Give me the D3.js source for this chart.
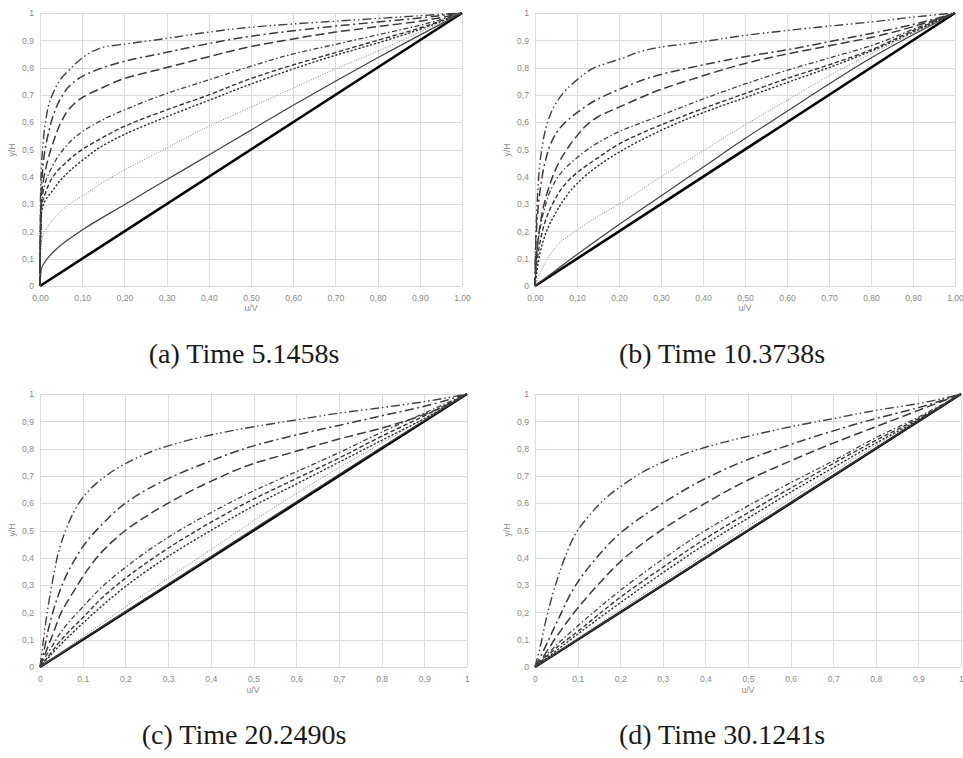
<!DOCTYPE html>
<html><head><meta charset="utf-8">
<script src="https://cdn.jsdelivr.net/npm/d3@7/dist/d3.min.js"></script>
<style>
html,body{margin:0;padding:0;background:#fff;}
svg{display:block;}
</style></head>
<body>
<svg id="fig" width="963" height="758"></svg>
<script>
// ---------- DATA ----------
const seriesNames = ["thick","solid","roundDot","squareDot","dash","dashDot","longDash","longDashDot","longDashDotDot"];
const captions = ["(a) Time 5.1458s","(b) Time 10.3738s","(c) Time 20.2490s","(d) Time 30.1241s"];
const tickValues = [0,0.1,0.2,0.3,0.4,0.5,0.6,0.7,0.8,0.9,1];
const xTickLabelsAB = ["0,00","0,10","0,20","0,30","0,40","0,50","0,60","0,70","0,80","0,90","1,00"];
const xTickLabelsCD = ["0","0,1","0,2","0,3","0,4","0,5","0,6","0,7","0,8","0,9","1"];
const yTickLabels = ["0","0,1","0,2","0,3","0,4","0,5","0,6","0,7","0,8","0,9","1"];
const xTitle = "u/V", yTitle = "y/H";

// each series: list of [u/V, y/H]
const seriesA = [
  [[0,0],[1,1]],
  [[0,0],[0.003,0.06],[0.035,0.13],[0.1,0.205],[0.2,0.298],[0.3,0.389],[0.4,0.48],[0.5,0.571],[0.6,0.662],[0.7,0.75],[0.8,0.836],[0.9,0.919],[1,1]],
  [[0,0],[0.001,0.1],[0.004,0.17],[0.015,0.21],[0.035,0.25],[0.07,0.3],[0.1,0.33],[0.15,0.38],[0.2,0.425],[0.3,0.505],[0.4,0.585],[0.5,0.655],[0.6,0.725],[0.7,0.795],[0.8,0.86],[0.9,0.93],[1,1]],
  [[0,0],[0.002,0.2],[0.004,0.27],[0.015,0.32],[0.03,0.35],[0.05,0.39],[0.1,0.46],[0.15,0.515],[0.2,0.555],[0.3,0.62],[0.4,0.68],[0.5,0.74],[0.6,0.795],[0.7,0.845],[0.8,0.89],[0.9,0.94],[1,1]],
  [[0,0],[0.002,0.22],[0.004,0.29],[0.015,0.35],[0.035,0.41],[0.06,0.45],[0.1,0.5],[0.15,0.545],[0.2,0.585],[0.3,0.645],[0.4,0.7],[0.5,0.76],[0.6,0.81],[0.7,0.855],[0.8,0.9],[0.9,0.945],[1,1]],
  [[0,0],[0.002,0.25],[0.005,0.32],[0.015,0.39],[0.03,0.44],[0.05,0.49],[0.1,0.565],[0.15,0.61],[0.2,0.645],[0.3,0.705],[0.4,0.755],[0.5,0.805],[0.6,0.85],[0.7,0.885],[0.8,0.92],[0.9,0.955],[1,1]],
  [[0,0],[0.002,0.28],[0.005,0.35],[0.012,0.42],[0.02,0.47],[0.032,0.53],[0.05,0.6],[0.07,0.65],[0.1,0.69],[0.15,0.728],[0.2,0.76],[0.3,0.8],[0.4,0.84],[0.5,0.877],[0.6,0.905],[0.7,0.93],[0.8,0.95],[0.9,0.97],[1,1]],
  [[0,0],[0.002,0.3],[0.005,0.4],[0.01,0.48],[0.02,0.56],[0.035,0.64],[0.05,0.69],[0.075,0.74],[0.1,0.768],[0.15,0.8],[0.2,0.823],[0.3,0.856],[0.4,0.888],[0.5,0.915],[0.6,0.935],[0.7,0.952],[0.8,0.967],[0.9,0.982],[1,1]],
  [[0,0],[0.001,0.3],[0.003,0.42],[0.007,0.52],[0.013,0.6],[0.022,0.67],[0.035,0.72],[0.05,0.76],[0.075,0.8],[0.1,0.835],[0.13,0.863],[0.16,0.878],[0.2,0.886],[0.3,0.907],[0.4,0.93],[0.5,0.948],[0.6,0.96],[0.7,0.97],[0.8,0.98],[0.9,0.99],[1,1]]
];
const seriesB = [
  [[0,0],[1,1]],
  [[0,0],[0.1,0.115],[0.2,0.225],[0.3,0.33],[0.4,0.435],[0.5,0.54],[0.6,0.64],[0.7,0.74],[0.8,0.835],[0.9,0.92],[1,1]],
  [[0,0],[0.01,0.04],[0.03,0.1],[0.06,0.16],[0.1,0.205],[0.15,0.255],[0.2,0.3],[0.3,0.4],[0.4,0.495],[0.5,0.59],[0.6,0.68],[0.7,0.77],[0.8,0.85],[0.9,0.925],[1,1]],
  [[0,0],[0.005,0.06],[0.015,0.14],[0.03,0.21],[0.05,0.27],[0.075,0.33],[0.1,0.375],[0.15,0.44],[0.2,0.49],[0.3,0.57],[0.4,0.635],[0.5,0.69],[0.6,0.745],[0.7,0.8],[0.8,0.86],[0.9,0.93],[1,1]],
  [[0,0],[0.004,0.08],[0.012,0.16],[0.025,0.24],[0.045,0.31],[0.07,0.37],[0.1,0.415],[0.15,0.47],[0.2,0.52],[0.3,0.59],[0.4,0.65],[0.5,0.705],[0.6,0.76],[0.7,0.81],[0.8,0.865],[0.9,0.935],[1,1]],
  [[0,0],[0.003,0.1],[0.01,0.19],[0.022,0.28],[0.04,0.36],[0.065,0.42],[0.1,0.47],[0.15,0.525],[0.2,0.565],[0.3,0.625],[0.4,0.685],[0.5,0.74],[0.6,0.79],[0.7,0.835],[0.8,0.88],[0.9,0.94],[1,1]],
  [[0,0],[0.003,0.1],[0.01,0.2],[0.02,0.29],[0.035,0.37],[0.05,0.43],[0.08,0.51],[0.1,0.55],[0.12,0.585],[0.15,0.62],[0.2,0.655],[0.3,0.72],[0.4,0.77],[0.5,0.815],[0.6,0.85],[0.7,0.88],[0.8,0.91],[0.9,0.95],[1,1]],
  [[0,0],[0.002,0.15],[0.006,0.26],[0.013,0.36],[0.025,0.46],[0.04,0.53],[0.06,0.58],[0.1,0.635],[0.15,0.685],[0.2,0.72],[0.3,0.775],[0.4,0.81],[0.5,0.84],[0.6,0.865],[0.7,0.895],[0.8,0.925],[0.9,0.958],[1,1]],
  [[0,0],[0.002,0.18],[0.005,0.3],[0.01,0.42],[0.018,0.52],[0.03,0.6],[0.05,0.67],[0.075,0.72],[0.1,0.755],[0.15,0.805],[0.2,0.83],[0.3,0.875],[0.4,0.895],[0.5,0.918],[0.6,0.936],[0.7,0.952],[0.8,0.967],[0.9,0.985],[1,1]]
];
const seriesC = [
  [[0,0],[1,1]],
  [[0,0],[0.2,0.203],[0.5,0.505],[0.8,0.805],[1,1]],
  [[0,0],[0.05,0.055],[0.1,0.11],[0.2,0.22],[0.3,0.325],[0.4,0.43],[0.5,0.535],[0.6,0.635],[0.7,0.73],[0.8,0.82],[0.9,0.91],[1,1]],
  [[0,0],[0.02,0.035],[0.05,0.085],[0.1,0.16],[0.15,0.23],[0.2,0.295],[0.3,0.405],[0.4,0.5],[0.5,0.59],[0.6,0.67],[0.7,0.75],[0.8,0.83],[0.9,0.91],[1,1]],
  [[0,0],[0.02,0.04],[0.05,0.1],[0.1,0.18],[0.15,0.26],[0.2,0.325],[0.3,0.435],[0.4,0.53],[0.5,0.615],[0.6,0.69],[0.7,0.765],[0.8,0.845],[0.9,0.92],[1,1]],
  [[0,0],[0.01,0.03],[0.03,0.08],[0.05,0.13],[0.1,0.22],[0.15,0.3],[0.2,0.365],[0.3,0.475],[0.4,0.565],[0.5,0.645],[0.6,0.715],[0.7,0.785],[0.8,0.86],[0.9,0.93],[1,1]],
  [[0,0],[0.01,0.04],[0.03,0.12],[0.05,0.2],[0.08,0.28],[0.1,0.33],[0.15,0.43],[0.2,0.5],[0.3,0.6],[0.4,0.68],[0.5,0.745],[0.6,0.79],[0.7,0.835],[0.8,0.875],[0.9,0.925],[1,1]],
  [[0,0],[0.008,0.05],[0.02,0.14],[0.04,0.25],[0.06,0.33],[0.08,0.39],[0.1,0.44],[0.15,0.53],[0.2,0.6],[0.3,0.69],[0.4,0.755],[0.5,0.81],[0.6,0.85],[0.7,0.885],[0.8,0.92],[0.9,0.955],[1,1]],
  [[0,0],[0.005,0.06],[0.015,0.18],[0.03,0.32],[0.045,0.43],[0.06,0.5],[0.08,0.57],[0.1,0.62],[0.15,0.695],[0.2,0.745],[0.3,0.81],[0.4,0.85],[0.5,0.88],[0.6,0.905],[0.7,0.93],[0.8,0.95],[0.9,0.972],[1,1]]
];
const seriesD = [
  [[0,0],[1,1]],
  [[0,0],[0.5,0.502],[1,1]],
  [[0,0],[0.1,0.105],[0.2,0.21],[0.3,0.312],[0.4,0.414],[0.5,0.515],[0.6,0.615],[0.7,0.715],[0.8,0.812],[0.9,0.906],[1,1]],
  [[0,0],[0.05,0.06],[0.1,0.12],[0.2,0.235],[0.3,0.345],[0.4,0.45],[0.5,0.545],[0.6,0.64],[0.7,0.73],[0.8,0.82],[0.9,0.905],[1,1]],
  [[0,0],[0.05,0.07],[0.1,0.13],[0.2,0.255],[0.3,0.365],[0.4,0.47],[0.5,0.565],[0.6,0.655],[0.7,0.745],[0.8,0.83],[0.9,0.91],[1,1]],
  [[0,0],[0.05,0.08],[0.1,0.15],[0.2,0.28],[0.3,0.395],[0.4,0.5],[0.5,0.59],[0.6,0.675],[0.7,0.755],[0.8,0.84],[0.9,0.915],[1,1]],
  [[0,0],[0.02,0.04],[0.05,0.11],[0.1,0.215],[0.15,0.305],[0.2,0.385],[0.3,0.505],[0.4,0.6],[0.5,0.685],[0.6,0.755],[0.7,0.82],[0.8,0.88],[0.9,0.94],[1,1]],
  [[0,0],[0.02,0.06],[0.05,0.16],[0.1,0.31],[0.15,0.41],[0.2,0.49],[0.3,0.6],[0.4,0.69],[0.5,0.76],[0.6,0.815],[0.7,0.865],[0.8,0.91],[0.9,0.95],[1,1]],
  [[0,0],[0.01,0.06],[0.03,0.2],[0.05,0.31],[0.07,0.4],[0.1,0.5],[0.13,0.56],[0.16,0.61],[0.2,0.66],[0.3,0.75],[0.4,0.805],[0.5,0.845],[0.6,0.88],[0.7,0.91],[0.8,0.94],[0.9,0.965],[1,1]]
];

// ---------- STYLES ----------
const seriesDash  = [null, null, "1,1.6", "2.2,1.8", "4.5,2.5", "5,2.5,1.5,2.5", "9,4", "9,3.5,2,3.5", "9,3,1.5,3,1.5,3"];
const seriesWidth = [2.6, 1.2, 1.0, 1.4, 1.4, 1.3, 1.5, 1.5, 1.4];
const seriesColor = ["#000", "#404040", "#808080", "#2e2e2e", "#333", "#404040", "#3a3a3a", "#3a3a3a", "#404040"];

const panels = [
  {data: seriesA, xl: xTickLabelsAB, x0:40,  x1:462, yT:13,  yB:286, cap:[244,363], xt:[251,311], yt:[15,150]},
  {data: seriesB, xl: xTickLabelsAB, x0:535, x1:955, yT:13,  yB:286, cap:[722,363], xt:[745,311], yt:[510,150]},
  {data: seriesC, xl: xTickLabelsCD, x0:40,  x1:467, yT:394, yB:667, cap:[244,744], xt:[253,693], yt:[15,530]},
  {data: seriesD, xl: xTickLabelsCD, x0:535, x1:961, yT:394, yB:667, cap:[722,744], xt:[748,693], yt:[510,530]}
];

const svg = d3.select("#fig");
const tickFont = "'Liberation Sans', Arial, sans-serif";

panels.forEach((p, i) => {
  const x = d3.scaleLinear().domain([0,1]).range([p.x0, p.x1]);
  const y = d3.scaleLinear().domain([0,1]).range([p.yB, p.yT]);
  const g = svg.append("g");

  // gridlines
  const gx = g.append("g").attr("transform", `translate(0,${p.yB})`)
    .call(d3.axisBottom(x).tickValues(tickValues).tickSize(-(p.yB - p.yT)).tickFormat(""));
  const gy = g.append("g").attr("transform", `translate(${p.x0},0)`)
    .call(d3.axisLeft(y).tickValues(tickValues).tickSize(-(p.x1 - p.x0)).tickFormat(""));
  [gx, gy].forEach(a => {
    a.select(".domain").remove();
    a.selectAll(".tick line").attr("stroke", "#dcdcdc").attr("stroke-width", 1).attr("shape-rendering","crispEdges");
  });

  // tick labels
  const ax = g.append("g").attr("transform", `translate(0,${p.yB})`)
    .call(d3.axisBottom(x).tickValues(tickValues).tickSize(0).tickPadding(9).tickFormat((d, k) => p.xl[k]));
  const ay = g.append("g").attr("transform", `translate(${p.x0},0)`)
    .call(d3.axisLeft(y).tickValues(tickValues).tickSize(0).tickPadding(6).tickFormat((d, k) => yTickLabels[k]));
  [ax, ay].forEach(a => {
    a.select(".domain").remove();
    a.selectAll("text").attr("fill", "#8a8a8a").style("font-family", tickFont).style("font-size", "8.6px");
  });

  // series
  const line = d3.line().x(d => x(d[0])).y(d => y(d[1])).curve(d3.curveMonotoneY);
  p.data.forEach((s, k) => {
    g.append("path").datum(s)
      .attr("d", line)
      .attr("fill", "none")
      .attr("stroke", seriesColor[k])
      .attr("stroke-width", seriesWidth[k])
      .attr("stroke-dasharray", seriesDash[k])
      .attr("stroke-linejoin", "round")
      .attr("class", "series-" + seriesNames[k]);
  });

  // axis titles
  g.append("text").attr("x", p.xt[0]).attr("y", p.xt[1]).attr("text-anchor", "middle")
    .attr("fill", "#8a8a8a").style("font-family", tickFont).style("font-size", "8.6px").text(xTitle);
  g.append("text").attr("transform", `translate(${p.yt[0]},${p.yt[1]}) rotate(-90)`).attr("text-anchor", "middle")
    .attr("fill", "#8a8a8a").style("font-family", tickFont).style("font-size", "8.6px").text(yTitle);

  // caption
  g.append("text").attr("x", p.cap[0]).attr("y", p.cap[1]).attr("text-anchor", "middle")
    .attr("fill", "#1a1a1a").style("font-family", "'Liberation Serif','DejaVu Serif',serif").style("font-size", "28px")
    .text(captions[i]);
});
</script>
</body></html>
